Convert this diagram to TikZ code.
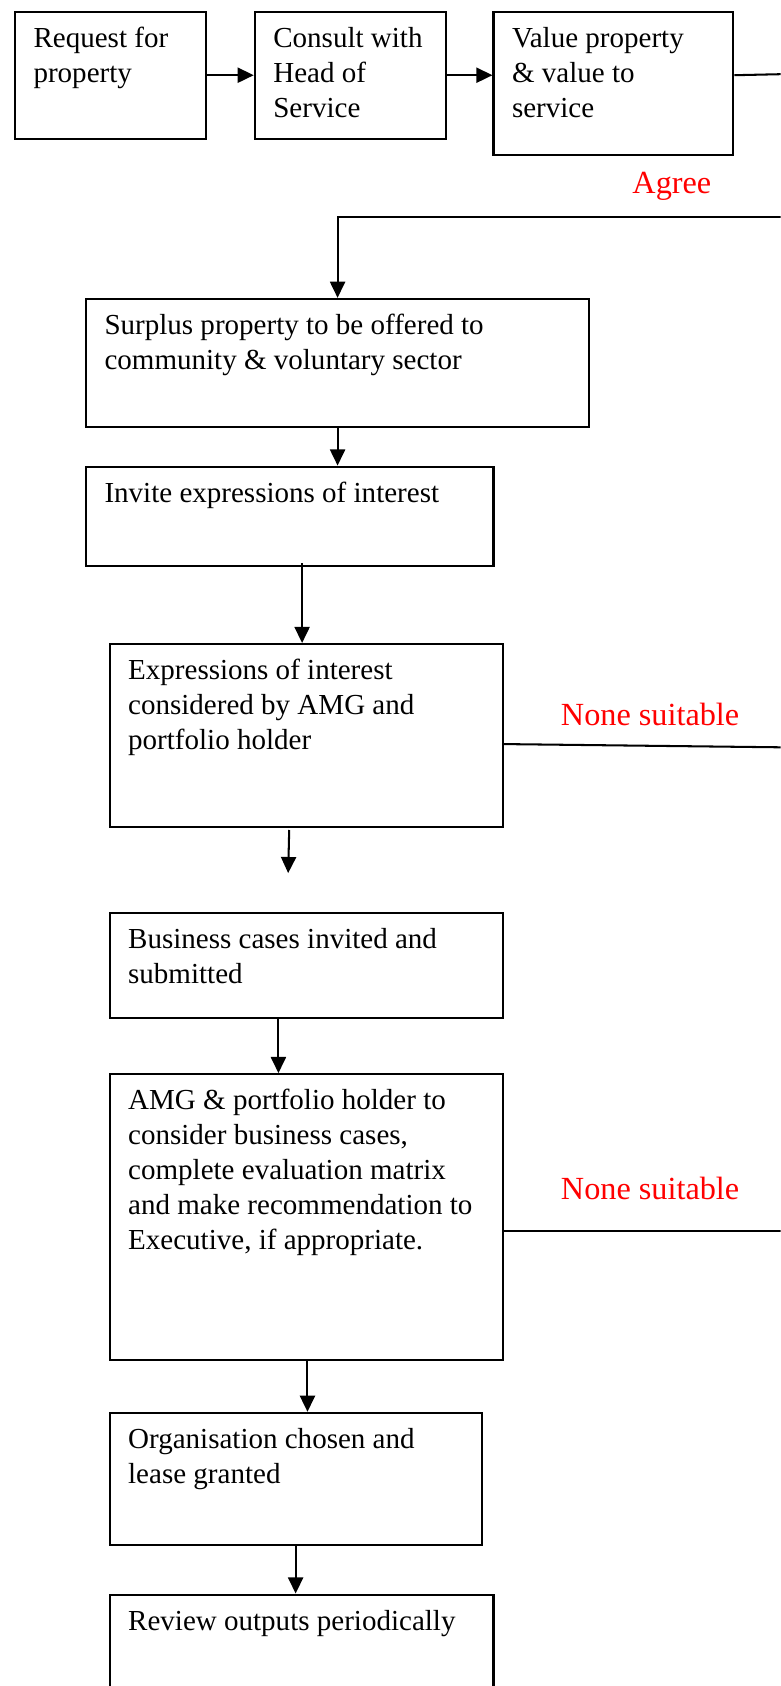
\documentclass[tikz,border=0pt]{standalone}
\usepackage{fontspec}
\setmainfont{Liberation Serif}
\usetikzlibrary{arrows.meta,calc}
\definecolor{lblred}{RGB}{255,0,0}
\newcommand{\firststrut}{\rule{0pt}{20pt}}
\begin{document}
\begin{tikzpicture}[x=1pt,y=-1pt,
  box/.style={draw, line width=1.9pt, inner sep=0pt, anchor=north west},
  txt/.style={anchor=north west, inner sep=0pt, align=left, font=\fontsize{27}{32.4}\selectfont},
  lbl/.style={anchor=base west, inner sep=0pt, text=lblred, font=\fontsize{30}{34}\selectfont},
  arr/.style={line width=1.9pt, -{Triangle[length=15pt,width=14pt]}},
  ln/.style={line width=1.9pt}]
\useasboundingbox (0,0) rectangle (726,1568);
\clip (0,0) rectangle (726,1568);

% boxes
\node[box, minimum width=178pt, minimum height=118pt] (b1) at (13,10) {};
\node[box, minimum width=178pt, minimum height=118pt] (b2) at (236,10) {};
\node[box, minimum width=223pt, minimum height=133pt] (b3) at (458,10) {};
\node[box, minimum width=468pt, minimum height=119pt] (b4) at (79,277) {};
\node[box, minimum width=379pt, minimum height=92pt] (b5) at (79,433) {};
\node[box, minimum width=366pt, minimum height=170pt] (b6) at (101,598) {};
\node[box, minimum width=366pt, minimum height=98pt] (b7) at (101,848) {};
\node[box, minimum width=366pt, minimum height=266pt] (b8) at (101,998) {};
\node[box, minimum width=346pt, minimum height=123pt] (b9) at (101,1313) {};
\node[box, minimum width=357pt, minimum height=150pt] (b10) at (101,1482) {};

% texts (first baseline 34pt below the box top)
\node[txt] (t1) at ($(b1.north west)+(18,14)$) {\firststrut Request for\\property};
\node[txt] (t2) at ($(b2.north west)+(18,14)$) {\firststrut Consult with\\Head of\\Service};
\node[txt] (t3) at ($(b3.north west)+(18,14)$) {\firststrut Value property\\\& value to\\service};
\node[txt] (t4) at ($(b4.north west)+(18,14)$) {\firststrut Surplus property to be offered to\\community \& voluntary sector};
\node[txt] (t5) at ($(b5.north west)+(18,14)$) {\firststrut Invite expressions of interest};
\node[txt] (t6) at ($(b6.north west)+(18,14)$) {\firststrut Expressions of interest\\considered by AMG and\\portfolio holder};
\node[txt] (t7) at ($(b7.north west)+(18,14)$) {\firststrut Business cases invited and\\submitted};
\node[txt] (t8) at ($(b8.north west)+(18,14)$) {\firststrut AMG \& portfolio holder to\\consider business cases,\\complete evaluation matrix\\and make recommendation to\\Executive, if appropriate.};
\node[txt] (t9) at ($(b9.north west)+(18,14)$) {\firststrut Organisation chosen and\\lease granted};
\node[txt] (t10) at ($(b10.north west)+(18,14)$) {\firststrut Review outputs periodically};

% labels
\node[lbl] (agree) at (588,180.3) {Agree};
\node[lbl] (ns1) at (521.5,675) {None suitable};
\node[lbl] (ns2) at (521.5,1116) {None suitable};

% free ends at the right edge
\coordinate (r1) at (726,69);
\coordinate (r2) at (726,202);
\coordinate (r3) at (726,695);
\coordinate (r4) at (726,1145);
\coordinate (f6) at (268,812);

% connectors
\draw[arr] (b1.east) -- (b2.west);
\draw[arr] (b2.east) -- (b2.east -| b3.west);
\draw[ln] (b3.east |- b2.east) -- (r1);
\draw[arr] (r2) -| (b4.north);
\draw[arr] (b4.south) -- (b4.south |- b5.north);
\draw[arr] ($(b5.south)+(11.5,-3)$) coordinate (s5) -- (s5 |- b6.north);
\draw[ln] (b6.east |- r3) ++(0,-3) coordinate (e6) -- (r3);
\draw[arr] ($(b6.south)+(-16,2)$) -- (f6);
\draw[arr] ($(b7.south)+(-26,0)$) coordinate (s7) -- (s7 |- b8.north);
\draw[ln] (b8.east |- r4) -- (r4);
\draw[arr] ($(b8.south)+(1,0)$) coordinate (s8) -- (s8 |- b9.north);
\draw[arr] (b9.south) -- (b9.south |- b10.north);
\end{tikzpicture}
\end{document}
